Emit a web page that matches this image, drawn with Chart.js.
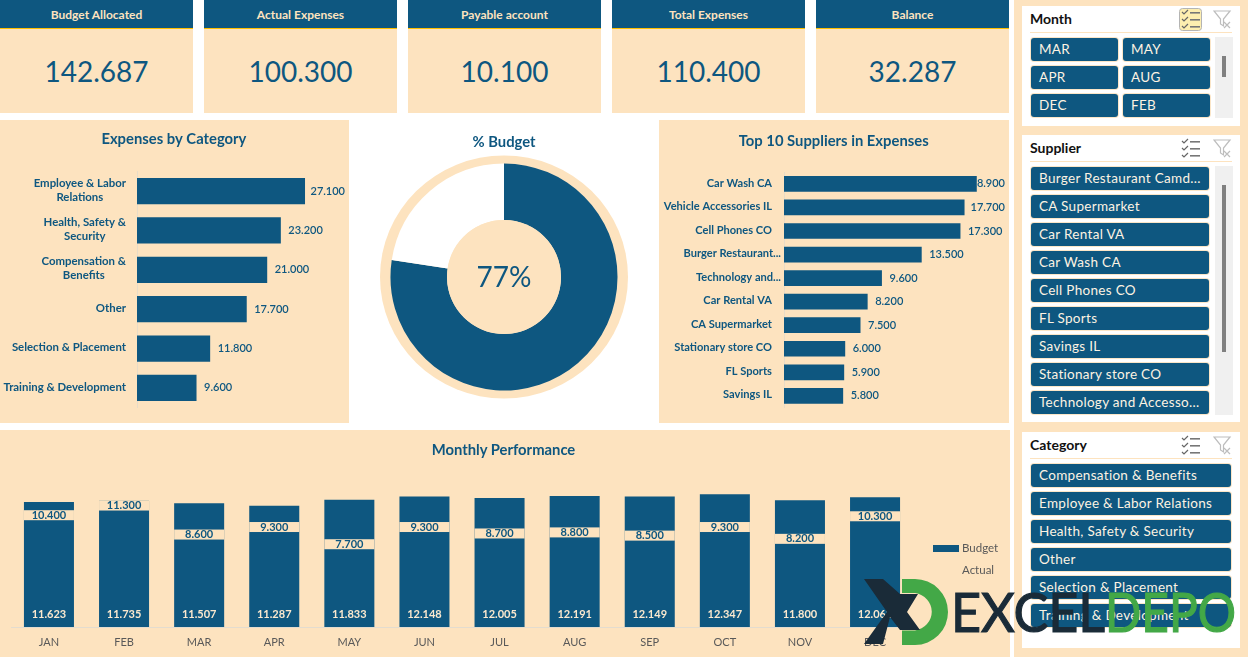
<!DOCTYPE html>
<html>
<head>
<meta charset="utf-8">
<title>Budget dashboard</title>
<script src="https://cdn.jsdelivr.net/npm/chart.js@4"></script>
<style>
  html, body { margin: 0; padding: 0; background: #fff; overflow: hidden; }
  body { width: 1248px; height: 657px; position: relative; font-family: Lato, sans-serif; }
  .abs, .kpi, .slicer, .btn, canvas { position: absolute; }
  .kpi { top: 0; width: 193px; height: 113px; background: #fde3bf; text-align: center; }
  .kpi .head { height: 28px; line-height: 29px; background: #0e5780; border-bottom: 1px solid #ffc000; color: #fde3bf; font-size: 12px; font-weight: 700; }
  .kpi .val { margin-top: 24px; font-size: 28px; line-height: 36px; color: #0e5780; }
  .slicer { background: #fff; left: 1022px; width: 218px; }
  .slicer .name { position: absolute; left: 8px; top: 4px; font-size: 14px; font-weight: 700; color: #111; line-height: 18px; }
  .slicer .rule { position: absolute; left: 8px; right: 8px; top: 26px; height: 1px; background: #fde3bf; }
  .btn { height: 23px; line-height: 22px; background: #0e5780; border-radius: 3px; color: #fdf3e3; font-size: 13.5px; padding-left: 8px; box-sizing: border-box; box-shadow: 0 0 0 1px #fbe6c8; white-space: nowrap; letter-spacing: .3px; }
  .track { position: absolute; background: #f0f0f0; width: 18px; }
  .thumb { position: absolute; background: #808080; width: 4px; left: 7px; }
  svg.icon { position: absolute; }
  #legend div { position: absolute; left: 962px; font-size: 11.5px; color: #595959; line-height: 14px; }
  #monthlyTitle { left: 353.5px; top: 440px; width: 300px; text-align: center; font-size: 14.8px; font-weight: 700; color: #0e5780; line-height: 18px; }
  #logo { position: absolute; left: 0; top: 0; z-index: 5; pointer-events: none; }
</style>
</head>
<body>
<div class="abs" style="left:1014px;top:0;width:234px;height:657px;background:#fde3bf"></div>
<div class="abs" style="left:0;top:120px;width:349px;height:303px;background:#fde3bf"></div>
<div class="abs" style="left:659px;top:120px;width:350px;height:303px;background:#fde3bf"></div>
<div class="abs" style="left:0;top:430px;width:1010px;height:227px;background:#fde3bf"></div>

<div id="kpis"></div>
<canvas id="categoryChart" width="349" height="303" style="left:0;top:120px"></canvas>
<canvas id="budgetChart" width="260" height="270" style="left:374px;top:130px"></canvas>
<canvas id="supplierChart" width="350" height="303" style="left:659px;top:120px"></canvas>
<canvas id="monthlyChart" width="1010" height="227" style="left:0;top:430px"></canvas>
<div class="abs" id="monthlyTitle">Monthly Performance</div>
<div id="legend"></div>
<div id="slicers"></div>

<svg id="logo" width="1248" height="657" viewBox="0 0 1248 657">
  <path d="M902 579H915A33 33 0 0 1 915 645H902V630.5H915A20 19 0 0 0 915 593H902Z" fill="#43a847"/>
  <path d="M864 579H883L900 594H918L907 612L920 630H900L890 617L883 644H864L887 612Z" fill="#1a2b38"/>
  <text x="951" y="632" font-family="Lato" font-size="55" textLength="154" lengthAdjust="spacingAndGlyphs" fill="#1a2b38" stroke="#1a2b38" stroke-width="1.2">EXCEL</text>
  <text x="1105" y="632" font-family="Lato" font-size="55" textLength="131" lengthAdjust="spacingAndGlyphs" fill="#43a847" stroke="#43a847" stroke-width="1.2">DEPO</text>
</svg>

<script>
const kpiLabels = ['Budget Allocated', 'Actual Expenses', 'Payable account', 'Total Expenses', 'Balance'];
const kpiValues = [142687, 100300, 10100, 110400, 32287];

const categoryLabels = [['Employee & Labor', 'Relations'], ['Health, Safety &', 'Security'], ['Compensation &', 'Benefits'], ['Other'], ['Selection & Placement'], ['Training & Development']];
const categoryValues = [27100, 23200, 21000, 17700, 11800, 9600];

const supplierLabels = ['Car Wash CA', 'Vehicle Accessories IL', 'Cell Phones CO', 'Burger Restaurant...', 'Technology and...', 'Car Rental VA', 'CA Supermarket', 'Stationary store CO', 'FL Sports', 'Savings IL'];
const supplierValues = [18900, 17700, 17300, 13500, 9600, 8200, 7500, 6000, 5900, 5800];

const months = ['JAN', 'FEB', 'MAR', 'APR', 'MAY', 'JUN', 'JUL', 'AUG', 'SEP', 'OCT', 'NOV', 'DEC'];
const budgetValues = [11623, 11735, 11507, 11287, 11833, 12148, 12005, 12191, 12149, 12347, 11800, 12062];
const actualValues = [10400, 11300, 8600, 9300, 7700, 9300, 8700, 8800, 8500, 9300, 8200, 10300];

const budgetSplit = [110400, 32287];
const budgetPercent = '77%';

const monthSlicer = ['MAR', 'MAY', 'APR', 'AUG', 'DEC', 'FEB'];
const supplierSlicer = ['Burger Restaurant Camd...', 'CA Supermarket', 'Car Rental VA', 'Car Wash CA', 'Cell Phones CO', 'FL Sports', 'Savings IL', 'Stationary store CO', 'Technology and Accesso...'];
const categorySlicer = ['Compensation & Benefits', 'Employee & Labor Relations', 'Health, Safety & Security', 'Other', 'Selection & Placement', 'Training & Development'];

const BLUE = '#0e5780';
const PEACH = '#fde3bf';
const fmt = (v) => v.toLocaleString('de-DE');
const FONT = 'Lato, sans-serif';
const TITLE_FONT = { family: FONT, size: 14.8, weight: '700', lineHeight: 1.2 };

Chart.defaults.animation = false;
Chart.defaults.responsive = false;
Chart.defaults.font.family = FONT;

// KPI cards
const kpiBox = document.getElementById('kpis');
kpiLabels.forEach((label, i) => {
  const card = document.createElement('div');
  card.className = 'kpi';
  card.style.left = (i * 204) + 'px';
  card.innerHTML = '<div class="head">' + label + '</div><div class="val">' + fmt(kpiValues[i]) + '</div>';
  kpiBox.appendChild(card);
});

// category names and end-of-bar values for the two horizontal charts
const sideLabels = {
  id: 'sideLabels',
  afterDatasetsDraw(chart, args, opts) {
    const { ctx, scales } = chart;
    const yScale = scales.y;
    ctx.save();
    ctx.fillStyle = BLUE;
    ctx.textBaseline = 'middle';
    ctx.font = '700 ' + opts.size + 'px ' + FONT;
    chart.data.labels.forEach((label, i) => {
      const y = yScale.getPixelForValue(i) - 1;
      const lines = Array.isArray(label) ? label : [label];
      const width = Math.max(...lines.map((l) => ctx.measureText(l).width));
      const shift = String(lines[0]).endsWith('...') ? opts.clipShift : 0;
      const right = yScale.right - opts.gap + shift;
      lines.forEach((line, n) => {
        const lineY = y + (n - (lines.length - 1) / 2) * 14;
        ctx.textAlign = 'center';
        ctx.fillText(line, right - width / 2, lineY);
      });
    });
    ctx.font = '600 11px ' + FONT;
    const limit = chart.width - 4;
    chart.getDatasetMeta(0).data.forEach((bar, i) => {
      const text = fmt(chart.data.datasets[0].data[i]);
      const w = ctx.measureText(text).width;
      ctx.textAlign = 'left';
      ctx.fillText(text, Math.min(bar.x + 7.5, limit - w), bar.y);
    });
    ctx.restore();
  },
};

function hbarChart(id, labels, values, title, max, axisWidth, padRight, gap, clipShift, titleTop, areaTop, size) {
  return new Chart(document.getElementById(id), {
    type: 'bar',
    data: { labels, datasets: [{ data: values, backgroundColor: BLUE, barPercentage: 0.667, categoryPercentage: 1 }] },
    options: {
      indexAxis: 'y',
      layout: { padding: { right: padRight, bottom: 15.4 } },
      scales: {
        x: { display: false, min: 0, max },
        y: {
          ticks: { display: false },
          grid: { display: false },
          border: { color: '#e8dcc8' },
          afterFit(s) { s.width = axisWidth; },
        },
      },
      plugins: {
        legend: { display: false },
        tooltip: { enabled: false },
        title: { display: true, text: title, color: BLUE, font: TITLE_FONT, padding: { top: titleTop, bottom: areaTop - titleTop - 17.8 } },
        sideLabels: { gap, clipShift, size },
      },
    },
    plugins: [sideLabels],
  });
}

hbarChart('categoryChart', categoryLabels, categoryValues, 'Expenses by Category', 34000, 137, 1.2, 11, 0, 10.5, 51.4, 11.4);
hbarChart('supplierChart', supplierLabels, supplierValues, 'Top 10 Suppliers in Expenses', 22000, 125, 0.6, 12, 9, 12, 52.2, 11.1);

// % Budget donut, with the oval behind it and the peach hole
const donutDecor = {
  id: 'donutDecor',
  beforeDatasetsDraw(chart) {
    const { ctx, chartArea: a } = chart;
    const cx = (a.left + a.right) / 2;
    const cy = (a.top + a.bottom) / 2;
    ctx.save();
    ctx.fillStyle = PEACH;
    ctx.beginPath();
    ctx.ellipse(cx, cy, 124, 121.5, 0, 0, Math.PI * 2);
    ctx.fill();
    ctx.restore();
  },
  afterDatasetsDraw(chart) {
    const { ctx, chartArea: a } = chart;
    const cx = (a.left + a.right) / 2;
    const cy = (a.top + a.bottom) / 2;
    ctx.save();
    ctx.fillStyle = PEACH;
    ctx.beginPath();
    ctx.arc(cx, cy, 57, 0, Math.PI * 2);
    ctx.fill();
    ctx.fillStyle = BLUE;
    ctx.font = '400 28px ' + FONT;
    ctx.textAlign = 'center';
    ctx.textBaseline = 'middle';
    ctx.fillText(budgetPercent, cx, cy + 1);
    ctx.restore();
  },
};

new Chart(document.getElementById('budgetChart'), {
  type: 'doughnut',
  data: { labels: ['Spent', 'Remaining'], datasets: [{ data: budgetSplit, backgroundColor: [BLUE, '#ffffff'], borderWidth: 0 }] },
  options: {
    cutout: 57,
    layout: { padding: { bottom: 9.5 } },
    plugins: {
      legend: { display: false },
      tooltip: { enabled: false },
      title: { display: true, text: '% Budget', color: BLUE, font: TITLE_FONT, padding: { top: 3, bottom: 12.7 } },
    },
  },
  plugins: [donutDecor],
});

// Monthly chart: the Actual labels sit in a peach strip centred on the actual value
const monthlyLabels = {
  id: 'monthlyLabels',
  afterDatasetsDraw(chart) {
    const { ctx, scales } = chart;
    const base = scales.y.getPixelForValue(0);
    ctx.save();
    ctx.textAlign = 'center';
    ctx.textBaseline = 'middle';
    ctx.font = '700 11px ' + FONT;
    chart.getDatasetMeta(1).data.forEach((bar, i) => {
      ctx.fillStyle = PEACH;
      ctx.fillRect(bar.x - bar.width / 2, bar.y - 5, bar.width, 10);
      ctx.fillStyle = BLUE;
      ctx.fillText(fmt(actualValues[i]), bar.x, bar.y);
    });
    ctx.fillStyle = '#fbe9cf';
    chart.getDatasetMeta(0).data.forEach((bar, i) => {
      ctx.fillText(fmt(budgetValues[i]), bar.x, base - 13);
    });
    ctx.restore();
  },
};

new Chart(document.getElementById('monthlyChart'), {
  type: 'bar',
  data: {
    labels: months,
    datasets: [
      { label: 'Budget', data: budgetValues, backgroundColor: BLUE, grouped: false, barPercentage: 0.666, categoryPercentage: 1 },
      { label: 'Actual', data: actualValues, backgroundColor: 'rgba(0,0,0,0)', grouped: false, barPercentage: 0.666, categoryPercentage: 1 },
    ],
  },
  options: {
    layout: { padding: { left: 11.4, right: 97.4, top: 46.5 } },
    scales: {
      y: { display: false, min: 0, max: 14000 },
      x: {
        grid: { display: false, tickLength: 0 },
        border: { color: '#e3dccf' },
        ticks: { color: '#595959', font: { size: 11, family: FONT }, padding: 9, maxRotation: 0 },
        afterFit(s) { s.height = 30; },
      },
    },
    plugins: {
      legend: { display: false },
      tooltip: { enabled: false },
    },
  },
  plugins: [monthlyLabels],
});

// legend for the monthly chart
const legendBox = document.getElementById('legend');
legendBox.innerHTML =
  '<span class="abs" style="left:933px;top:545px;width:26px;height:7px;background:' + BLUE + '"></span>' +
  '<div style="top:541px">Budget</div><div style="top:563px">Actual</div>';

// slicer panels
function iconSvg(left, top, on) {
  const rows = [3, 10, 17].map((y) =>
    '<path d="M3 ' + (y + 1) + 'l2 2 4-4" fill="none" stroke="#666" stroke-width="1.2"/><rect x="11" y="' + (y + 1) + '" width="10" height="1.6" fill="#777"/>'
  ).join('');
  return '<svg class="icon" style="left:' + left + 'px;top:' + top + 'px" width="24" height="24">' +
    (on ? '<rect x="0.5" y="0.5" width="22" height="22" rx="3" fill="#fdeeb0" stroke="#b4b4b4"/>' : '') + rows + '</svg>';
}
function filterSvg(left, top) {
  return '<svg class="icon" style="left:' + left + 'px;top:' + top + 'px" width="20" height="20">' +
    '<path d="M1 1H17L10.5 9V16L7.5 14V9Z" fill="none" stroke="#bdbdbd" stroke-width="1.2"/>' +
    '<path d="M11 12l6 6M17 12l-6 6" stroke="#bdbdbd" stroke-width="1.2"/></svg>';
}
function makeSlicer(title, top, height, items, cols, btnWidth, on, track) {
  const box = document.createElement('div');
  box.className = 'slicer';
  box.style.top = top + 'px';
  box.style.height = height + 'px';
  let html = '<div class="name">' + title + '</div><div class="rule"></div>';
  html += iconSvg(157, 2, on) + filterSvg(191, 4);
  items.forEach((item, i) => {
    const col = i % cols;
    const row = Math.floor(i / cols);
    html += '<div class="btn" style="left:' + (9 + col * (btnWidth + 5)) + 'px;top:' + (32 + row * 28) + 'px;width:' + btnWidth + 'px">' + item + '</div>';
  });
  if (track) {
    html += '<div class="track" style="left:193px;top:31px;height:' + track[0] + 'px"><div class="thumb" style="top:' + track[1] + 'px;height:' + track[2] + 'px"></div></div>';
  }
  box.innerHTML = html;
  document.getElementById('slicers').appendChild(box);
}
makeSlicer('Month', 6, 120, monthSlicer, 2, 87, true, [81, 19, 21]);
makeSlicer('Supplier', 135, 287, supplierSlicer, 1, 178, false, [249, 19, 167]);
makeSlicer('Category', 432, 216, categorySlicer, 1, 200, false, null);
</script>
</body>
</html>
